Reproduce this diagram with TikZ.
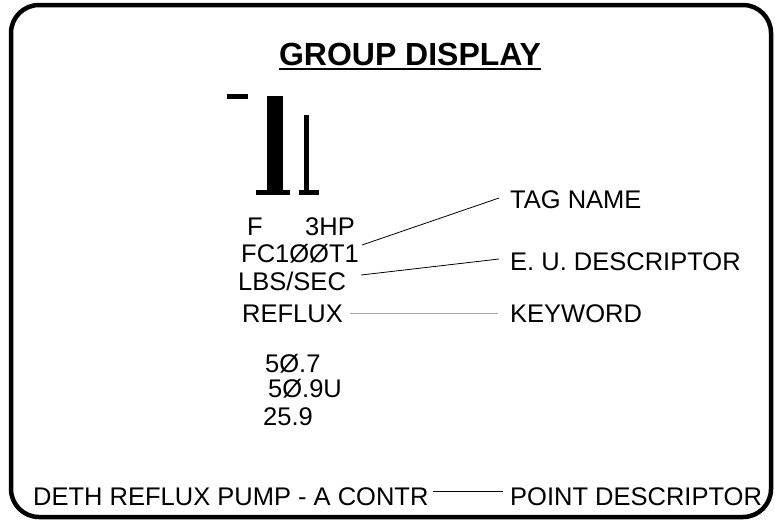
\documentclass[tikz,border=0pt]{standalone}
\usepackage{fontspec}
\setmainfont{Liberation Sans}
\usepackage{tikz}
\usetikzlibrary{positioning}

\begin{document}
\begin{tikzpicture}[x=1pt, y=-1pt,
    txt/.style={anchor=base west, inner sep=0pt, font=\fontsize{25.5}{30}\selectfont},
    lead/.style={line width=0.8pt}]
    \useasboundingbox (0,0) rectangle (775,520);
    \draw[line width=4.5pt, rounded corners=28pt] (11,5) rectangle (771,517);
    % title
    \node (title) at (410,65) [anchor=base, inner sep=0pt,
        font=\fontsize{32}{36}\selectfont\bfseries] {GROUP DISPLAY};
    \draw[line width=2pt] ([yshift=-4pt]title.base west) -- ([yshift=-4pt]title.base east);
    % bar graph
    \fill (227,94) rectangle (248,99);
    \fill (267,96) rectangle (283,190);
    \fill (256,190) rectangle (290,195);
    \fill (304,115) rectangle (309,190);
    \fill (299,190) rectangle (319,195);
    % point block
    \node (f)      at (247,235) [txt] {F};
    \node (hp)     at (305,235) [txt] {3HP};
    \node (tag)    at (241,262) [txt] {FC1ØØT1};
    \node (eu)     at (238,290) [txt] {LBS/SEC};
    \node (key)    at (242,322) [txt] {REFLUX};
    \foreach \x/\y/\v [count=\i] in {265/372/5Ø.7, 268/397/5Ø.9U, 263/425/25.9} {
        \node (val\i) at (\x,\y) [txt] {\v};
    }
    \node (desc)   at (33,505)  [txt] {DETH REFLUX PUMP - A CONTR};
    % callouts
    \node (tagname) at (510,208) [txt] {TAG NAME};
    \node (eudesc)  at (510,270) [txt] {E. U. DESCRIPTOR};
    \node (keyword) at (510,322) [txt] {KEYWORD};
    \node (ptdesc)  at (510,505) [txt] {POINT DESCRIPTOR};
    \draw[lead] ([xshift=3pt,yshift=17pt]tag.base east) -- ([xshift=-11pt,yshift=10pt]tagname.base west);
    \draw[lead] ([xshift=15pt,yshift=15pt]eu.base east) -- ([xshift=-11pt,yshift=11pt]eudesc.base west);
    \draw[lead, gray!70] ([xshift=7pt,yshift=9pt]key.base east) -- ([xshift=-12pt,yshift=9pt]keyword.base west);
    \draw[lead] ([xshift=4pt,yshift=14pt]desc.base east) -- ([xshift=-7pt,yshift=14pt]ptdesc.base west);
\end{tikzpicture}
\end{document}
